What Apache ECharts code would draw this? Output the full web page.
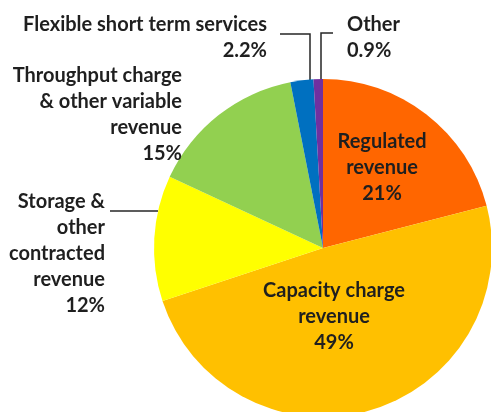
<!DOCTYPE html>
<html>
<head>
<meta charset="utf-8">
<script src="https://cdn.jsdelivr.net/npm/echarts@6/dist/echarts.min.js"></script>
<style>
  html, body { margin: 0; padding: 0; background: #fff; }
  #chart { width: 491px; height: 412px; }
</style>
</head>
<body>
<div id="chart"></div>
<script>
// revenue shares, clockwise from 12 o'clock
const segmentNames = [
    "Regulated\nrevenue",
    "Capacity charge\nrevenue",
    "Storage &\nother\ncontracted\nrevenue",
    "Throughput charge\n& other variable\nrevenue",
    "Flexible short term services",
    "Other"
];
const segmentShares = [21, 49, 12, 15, 2.2, 0.9];
const segmentColors = ["#ff6600", "#ffc000", "#ffff00", "#92d050", "#0070c0", "#7030a0"];

// where each label sits (layout only)
const labelSpots = [
    { x: 382, y: 168, align: "center" },
    { x: 334, y: 317, align: "center" },
    { x: 105, y: 254, align: "right", line: [[158, 211], [134, 211], [110, 211]] },
    { x: 182, y: 115, align: "right" },
    { x: 267, y: 38, align: "right", line: [[310, 80], [310, 34], [280, 34]] },
    { x: 347, y: 38, align: "left", line: [[321, 80], [321, 33], [333, 33]] }
];

const chart = echarts.init(document.getElementById("chart"));

chart.setOption({
    animation: false,
    series: [{
        type: "pie",
        center: [323, 248],
        radius: 169,
        startAngle: 90,
        clockwise: true,
        avoidLabelOverlap: false,
        itemStyle: { borderWidth: 0 },
        label: {
            show: true,
            position: "outside",
            fontFamily: "Lato",
            fontWeight: "bold",
            fontSize: 20,
            lineHeight: 26,
            color: "#1f1f1f",
            formatter: p => `${p.name}\n${p.value}%`
        },
        labelLine: {
            show: true,
            lineStyle: { color: "#262626", width: 1.5 }
        },
        labelLayout: params => {
            const spot = labelSpots[params.dataIndex];
            const out = { x: spot.x, y: spot.y, align: spot.align, verticalAlign: "middle" };
            out.labelLinePoints = spot.line || [[spot.x, spot.y], [spot.x, spot.y], [spot.x, spot.y]];
            return out;
        },
        data: segmentNames.map((name, i) => ({
            name,
            value: segmentShares[i],
            itemStyle: { color: segmentColors[i] },
            labelLine: { show: !!labelSpots[i].line }
        }))
    }]
});
</script>
</body>
</html>
